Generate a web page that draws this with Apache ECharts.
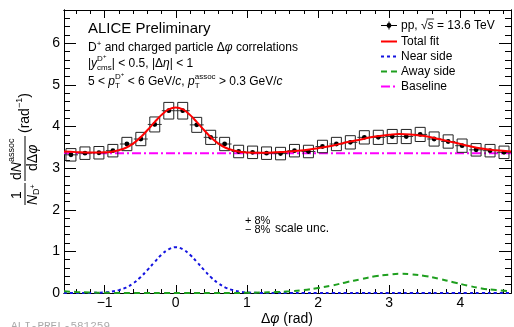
<!DOCTYPE html>
<html>
<head>
<meta charset="utf-8">
<script src="https://cdn.jsdelivr.net/npm/echarts@6.0.0/dist/echarts.min.js"></script>
<style>
  html, body { margin: 0; padding: 0; background: #fff; }
  #chart { width: 514px; height: 327px; }
</style>
</head>
<body>
<div id="chart"></div>
<script>
// D+ - charged particle delta-phi correlation, pp 13.6 TeV
const binCenters = [-1.473, -1.276, -1.080, -0.884, -0.687, -0.491, -0.295, -0.098,
  0.098, 0.295, 0.491, 0.687, 0.884, 1.080, 1.276, 1.473,
  1.669, 1.865, 2.062, 2.258, 2.454, 2.651, 2.847, 3.043,
  3.240, 3.436, 3.632, 3.829, 4.025, 4.222, 4.418, 4.614];
const yields = [3.32, 3.36, 3.37, 3.42, 3.58, 3.70, 4.05, 4.38,
  4.38, 4.04, 3.74, 3.58, 3.40, 3.38, 3.36, 3.35,
  3.42, 3.40, 3.52, 3.58, 3.62, 3.74, 3.74, 3.76,
  3.76, 3.81, 3.70, 3.64, 3.54, 3.44, 3.42, 3.38];
const sysErr = [0.15, 0.15, 0.15, 0.15, 0.16, 0.16, 0.18, 0.20,
  0.20, 0.18, 0.17, 0.16, 0.15, 0.15, 0.15, 0.15,
  0.15, 0.15, 0.15, 0.16, 0.16, 0.16, 0.17, 0.17,
  0.17, 0.17, 0.17, 0.16, 0.16, 0.15, 0.15, 0.15];
const statErr = [0.04, 0.04, 0.04, 0.04, 0.04, 0.04, 0.05, 0.05,
  0.05, 0.05, 0.04, 0.04, 0.04, 0.04, 0.04, 0.04,
  0.04, 0.04, 0.04, 0.04, 0.04, 0.04, 0.04, 0.04,
  0.04, 0.04, 0.04, 0.04, 0.04, 0.04, 0.04, 0.04];

const curvePhi = [-1.571, -1.4, -1.2, -1.0, -0.9, -0.8, -0.7, -0.6, -0.5, -0.4, -0.3, -0.2, -0.1, 0,
  0.1, 0.2, 0.3, 0.4, 0.5, 0.6, 0.7, 0.8, 0.9, 1.0, 1.2, 1.4, 1.6, 1.8, 2.0, 2.2,
  2.4, 2.6, 2.8, 3.0, 3.14, 3.3, 3.5, 3.7, 3.9, 4.1, 4.3, 4.5, 4.712];
const totalFit = [3.40, 3.385, 3.374, 3.379, 3.395, 3.431, 3.49, 3.59, 3.73, 3.91, 4.10, 4.28, 4.41, 4.46,
  4.41, 4.28, 4.10, 3.91, 3.73, 3.59, 3.49, 3.429, 3.395, 3.378, 3.372, 3.382, 3.40, 3.43, 3.48, 3.54,
  3.62, 3.69, 3.76, 3.80, 3.82, 3.81, 3.77, 3.70, 3.62, 3.54, 3.47, 3.43, 3.40];
const nearSide = [0, 0, 0.002, 0.014, 0.033, 0.069, 0.13, 0.23, 0.37, 0.55, 0.74, 0.92, 1.05, 1.10,
  1.05, 0.92, 0.74, 0.55, 0.37, 0.23, 0.13, 0.069, 0.033, 0.014, 0.002, 0, 0, 0, 0, 0,
  0, 0, 0, 0, 0, 0, 0, 0, 0, 0, 0, 0, 0];
const awaySide = [0.04, 0.025, 0.012, 0.005, 0.003, 0.002, 0, 0, 0, 0, 0, 0, 0, 0,
  0, 0, 0, 0, 0, 0, 0, 0, 0.002, 0.004, 0.01, 0.022, 0.04, 0.07, 0.12, 0.18,
  0.26, 0.33, 0.40, 0.44, 0.46, 0.45, 0.41, 0.34, 0.26, 0.18, 0.11, 0.07, 0.04];
const baselineLevel = 3.36;

const xMajor = [-1, 0, 1, 2, 3, 4];
const yMajor = [0, 1, 2, 3, 4, 5, 6];
const xMin = -Math.PI / 2, xMax = 3 * Math.PI / 2;
const yMin = 0, yMax = 6.8;

const C_FIT = '#ff0000', C_NEAR = '#1414e0', C_AWAY = '#1f9f1f', C_BASE = '#ff00ff';
const D_NEAR = [3, 3], D_AWAY = [6, 4], D_BASE = [9, 3, 2, 3];

function minors(from, to, step) {
  const out = [];
  for (let v = Math.ceil(from / step); v * step <= to + 1e-9; v++) {
    const val = Math.round(v * step * 100) / 100;
    if (Math.abs(val - Math.round(val)) > 1e-6) out.push(val);
  }
  return out;
}
const xMinor = minors(xMin, xMax, 0.2);
const yMinor = minors(yMin, yMax, 0.2);

const FONT = '"Liberation Sans", Arial, sans-serif';
const meas = document.createElement('canvas').getContext('2d');
function fontOf(size, italic) { return (italic ? 'italic ' : '') + size + 'px ' + FONT; }
function textW(t, size, italic) { meas.font = fontOf(size, italic); return meas.measureText(t).width; }
// pieces: [text, size, dy, flags]  flags: i = italic, m = mark x, b = start back at mark
function textRun(x, y, pieces, color) {
  const els = [];
  let cx = x, mark = x;
  pieces.forEach(p => {
    const t = p[0], size = p[1], dy = p[2] || 0, fl = p[3] || '';
    const f = fontOf(size, fl.indexOf('i') >= 0);
    const w = textW(t, size, fl.indexOf('i') >= 0);
    const px = fl.indexOf('b') >= 0 ? mark : cx;
    if (fl.indexOf('m') >= 0) mark = px;
    els.push({
      type: 'text', x: px, y: y + dy, silent: true,
      style: { text: t, font: f, fill: color || '#000', textAlign: 'left', textVerticalAlign: 'middle' }
    });
    cx = fl.indexOf('b') >= 0 ? Math.max(cx, px + w) : px + w;
  });
  return els;
}
function seg(x1, y1, x2, y2, color, width, dash) {
  return { type: 'line', silent: true, shape: { x1: x1, y1: y1, x2: x2, y2: y2 },
    style: { stroke: color, lineWidth: width, lineDash: dash || null } };
}

const pointData = binCenters.map((x, i) => [x, yields[i], sysErr[i], statErr[i]]);
const line = arr => curvePhi.map((x, i) => [x, arr[i]]);

function renderPoint(params, api) {
  const x = api.value(0), y = api.value(1), sys = api.value(2), st = api.value(3);
  const c = api.coord([x, y]);
  const bl = api.coord([x - 0.07, y - sys]);
  const tr = api.coord([x + 0.07, y + sys]);
  const hl = api.coord([x - 0.098, y]);
  const hr = api.coord([x + 0.098, y]);
  const sb = api.coord([x, y - st]);
  const stp = api.coord([x, y + st]);
  return {
    type: 'group',
    children: [
      { type: 'rect', shape: { x: bl[0], y: tr[1], width: tr[0] - bl[0], height: bl[1] - tr[1] },
        style: { fill: 'none', stroke: '#222', lineWidth: 1 } },
      { type: 'line', shape: { x1: hl[0], y1: hl[1], x2: hr[0], y2: hr[1] },
        style: { stroke: '#333', lineWidth: 1 } },
      { type: 'line', shape: { x1: sb[0], y1: sb[1], x2: stp[0], y2: stp[1] },
        style: { stroke: '#333', lineWidth: 1 } },
      { type: 'circle', shape: { cx: c[0], cy: c[1], r: 2.4 }, style: { fill: '#000' } }
    ]
  };
}

function xAxisDef(pos, ticks, len, labels) {
  return {
    type: 'value', min: xMin, max: xMax, position: pos,
    axisLine: { show: true, onZero: false, lineStyle: { color: '#000', width: 1 } },
    axisTick: { show: true, inside: true, length: len, customValues: ticks, lineStyle: { color: '#000', width: 1 } },
    axisLabel: labels ? {
      show: true, customValues: ticks, margin: 3, color: '#000', fontSize: 14, fontFamily: FONT,
      formatter: v => (v < 0 ? '\u2212' + (-v) : String(v))
    } : { show: false },
    splitLine: { show: false }
  };
}
function yAxisDef(pos, ticks, len, labels) {
  return {
    type: 'value', min: yMin, max: yMax, position: pos,
    axisLine: { show: true, onZero: false, lineStyle: { color: '#000', width: 1 } },
    axisTick: { show: true, inside: true, length: len, customValues: ticks, lineStyle: { color: '#000', width: 1 } },
    axisLabel: labels ? {
      show: true, customValues: ticks, margin: 4, color: '#000', fontSize: 14, fontFamily: FONT
    } : { show: false },
    splitLine: { show: false }
  };
}

const chart = echarts.init(document.getElementById('chart'), null, { renderer: 'canvas' });

// rotated y title
const ylab = [].concat(
  textRun(6, -8, [['1', 14, 0]]),
  textRun(0, 8, [['N', 14, 0, 'i'], ['D', 9, 4], ['+', 7, 0]]),
  textRun(25, -8, [['d', 14, 0], ['N', 14, 0, 'i'], ['assoc', 9, -5]]),
  textRun(34, 8, [['d', 14, 0], ['\u0394', 14, 0], ['\u03c6', 14, 0, 'i']]),
  textRun(72, 0, [['(rad', 14, 0], ['\u22121', 9, -5], [')', 14, 0]]),
  [seg(0, 0, 22, 0, '#000', 1), seg(24, 0, 69, 0, '#000', 1)]
);

// legend, drawn by hand so that the dash patterns show
const LX = 381, LW = 16, LT = LX + LW + 4;
const legRows = [25.5, 41.5, 56.5, 71.5, 86.5];
const ppRun = textRun(LT, legRows[0], [['pp, ', 12, 0], ['\u221a', 12, 0], ['s', 12, 0, 'i'], [' = 13.6 TeV', 12, 0]]);
const sX = ppRun[2].x, sW = textW('s', 12, true);
const legend = [].concat(
  [seg(LX, legRows[0], LX + LW, legRows[0], '#000', 1),
   seg(LX + LW / 2, legRows[0] - 4, LX + LW / 2, legRows[0] + 4, '#000', 1),
   { type: 'circle', silent: true, shape: { cx: LX + LW / 2, cy: legRows[0], r: 2.4 }, style: { fill: '#000' } },
   seg(sX - 1, legRows[0] - 6.5, sX + sW + 0.5, legRows[0] - 6.5, '#000', 0.8)],
  ppRun,
  [seg(LX, legRows[1], LX + LW, legRows[1], C_FIT, 2)], textRun(LT, legRows[1], [['Total fit', 12, 0]]),
  [seg(LX, legRows[2], LX + LW, legRows[2], C_NEAR, 2, D_NEAR)], textRun(LT, legRows[2], [['Near side', 12, 0]]),
  [seg(LX, legRows[3], LX + LW, legRows[3], C_AWAY, 2, D_AWAY)], textRun(LT, legRows[3], [['Away side', 12, 0]]),
  [seg(LX, legRows[4], LX + LW, legRows[4], C_BASE, 2, D_BASE)], textRun(LT, legRows[4], [['Baseline', 12, 0]])
);

const texts = [].concat(
  textRun(88, 29, [['ALICE Preliminary', 15, 0]]),
  textRun(88, 48, [['D', 12, 0], ['+', 8, -4], [' and charged particle \u0394', 12, 0], ['\u03c6', 12, 0, 'i'], [' correlations', 12, 0]]),
  textRun(88, 64, [['|', 12, 0], ['y', 12, 0, 'i'], ['D', 8, -5, 'm'], ['+', 6, -8], ['cms', 8, 4, 'b'],
    ['| < 0.5, |\u0394', 12, 0], ['\u03b7', 12, 0, 'i'], ['| < 1', 12, 0]]),
  textRun(88, 82, [['5 < ', 12, 0], ['p', 12, 0, 'i'], ['D', 8, -5, 'm'], ['+', 6, -8], ['T', 8, 4, 'b'],
    [' < 6 GeV/', 12, 0], ['c', 12, 0, 'i'], [', ', 12, 0], ['p', 12, 0, 'i'], ['assoc', 8, -5, 'm'], ['T', 8, 4, 'b'],
    [' > 0.3 GeV/', 12, 0], ['c', 12, 0, 'i']]),
  textRun(245, 221, [['+ 8%', 11, 0]]),
  textRun(245, 230, [['\u2212 8%', 11, 0]]),
  textRun(275, 229, [['scale unc.', 12, 0]]),
  textRun(261, 319, [['\u0394', 14, 0], ['\u03c6', 14, 0, 'i'], [' (rad)', 14, 0]]),
  [{ type: 'text', x: 11, y: 326, silent: true,
     style: { text: 'ALI-PREL-581259', font: '11px "Liberation Mono", monospace', fill: '#aaa', textVerticalAlign: 'middle' } }],
  [{ type: 'group', x: 25, y: 205, rotation: Math.PI / 2, children: ylab }],
  legend
);

chart.setOption({
  animation: false,
  backgroundColor: '#fff',
  grid: { left: 64, right: 3, top: 10, bottom: 34, containLabel: false },
  xAxis: [
    xAxisDef('bottom', xMajor, 8, true),
    xAxisDef('bottom', xMinor, 4, false),
    xAxisDef('top', xMajor, 8, false),
    xAxisDef('top', xMinor, 4, false)
  ],
  yAxis: [
    yAxisDef('left', yMajor, 12, true),
    yAxisDef('left', yMinor, 6, false),
    yAxisDef('right', yMajor, 12, false),
    yAxisDef('right', yMinor, 6, false)
  ],
  graphic: { elements: texts },
  series: [
    {
      name: 'Baseline', type: 'line', symbol: 'none', z: 2,
      data: [[xMin, baselineLevel], [xMax, baselineLevel]],
      lineStyle: { color: C_BASE, width: 2, type: D_BASE }
    },
    {
      name: 'Near side', type: 'line', symbol: 'none', smooth: 0.4, z: 3,
      data: line(nearSide),
      lineStyle: { color: C_NEAR, width: 2, type: D_NEAR }
    },
    {
      name: 'Away side', type: 'line', symbol: 'none', smooth: 0.4, z: 3,
      data: line(awaySide),
      lineStyle: { color: C_AWAY, width: 2, type: D_AWAY }
    },
    {
      name: 'pp, \u221as = 13.6 TeV', type: 'custom', z: 4,
      renderItem: renderPoint, data: pointData,
      encode: { x: 0, y: 1 }, itemStyle: { color: '#000' }
    },
    {
      name: 'Total fit', type: 'line', symbol: 'none', smooth: 0.4, z: 5,
      data: line(totalFit),
      lineStyle: { color: C_FIT, width: 2 }
    }
  ]
});
</script>
</body>
</html>
